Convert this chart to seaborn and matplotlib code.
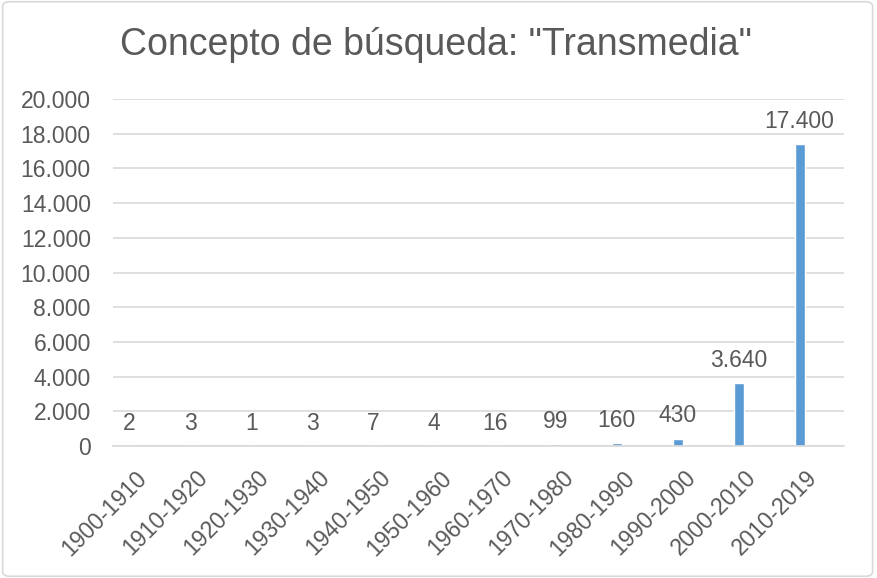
import matplotlib
matplotlib.use("Agg")
import matplotlib.pyplot as plt
import seaborn as sns
from matplotlib.patches import FancyBboxPatch

categories = ["1900-1910", "1910-1920", "1920-1930", "1930-1940", "1940-1950", "1950-1960",
              "1960-1970", "1970-1980", "1980-1990", "1990-2000", "2000-2010", "2010-2019"]
values = [2, 3, 1, 3, 7, 4, 16, 99, 160, 430, 3640, 17400]
title = 'Concepto de búsqueda: "Transmedia"'
yticks = list(range(0, 20001, 2000))

sns.set_theme(style="white")
plt.rcParams['font.family'] = ['Liberation Sans', 'DejaVu Sans']

text_color = "#595959"
bar_color = "#5B9BD5"
grid_color = "#D9D9D9"
label_size = 16.5

fig = plt.figure(figsize=(8.77, 5.78), dpi=100)
x0, x1 = 113 / 877, 844 / 877
y0, y1 = 1 - 446 / 578, 1 - 99 / 578
ax = fig.add_axes([x0, y0, x1 - x0, y1 - y0])

sns.barplot(x=categories, y=values, color=bar_color, width=0.165, ax=ax, saturation=1)

def fmt(v):
    return f"{v:,}".replace(",", ".")

ax.bar_label(ax.containers[0], labels=[fmt(v) for v in values], padding=8,
             fontsize=label_size, color=text_color)

# Excel-style category offset: bars sit left of the category centre
shift = 0.23
n = len(categories)
ax.set_xlim(-0.5 + shift, n - 0.5 + shift)
ax.set_xticks([i + shift for i in range(n)])
ax.set_xticklabels(categories, rotation=45, ha="right", va="center", rotation_mode="anchor",
                   fontsize=label_size, color=text_color)

ax.set_ylim(0, 20000)
ax.set_yticks(yticks)
ax.set_yticklabels([fmt(v) for v in yticks], fontsize=label_size, color=text_color)
ax.tick_params(axis="y", length=0, pad=16)
ax.tick_params(axis="x", length=0, pad=20.5)
ax.set_xlabel("")
ax.set_ylabel("")
ax.yaxis.grid(True, color=grid_color, linewidth=1.2)
ax.xaxis.grid(False)
ax.set_axisbelow(True)
for s in ["top", "right", "left"]:
    ax.spines[s].set_visible(False)
ax.spines["bottom"].set_color(grid_color)
ax.spines["bottom"].set_linewidth(1.2)

fig.text(0.497, 1 - 45 / 578, title, ha="center", va="center", fontsize=27, color=text_color)

border = FancyBboxPatch((0.003, 0.003), 0.992, 0.994, boxstyle="round,pad=0,rounding_size=0.008",
                        transform=fig.transFigure, fill=False, edgecolor=grid_color, linewidth=1.2)
fig.patches.append(border)

fig.savefig("out.png", dpi=100)
